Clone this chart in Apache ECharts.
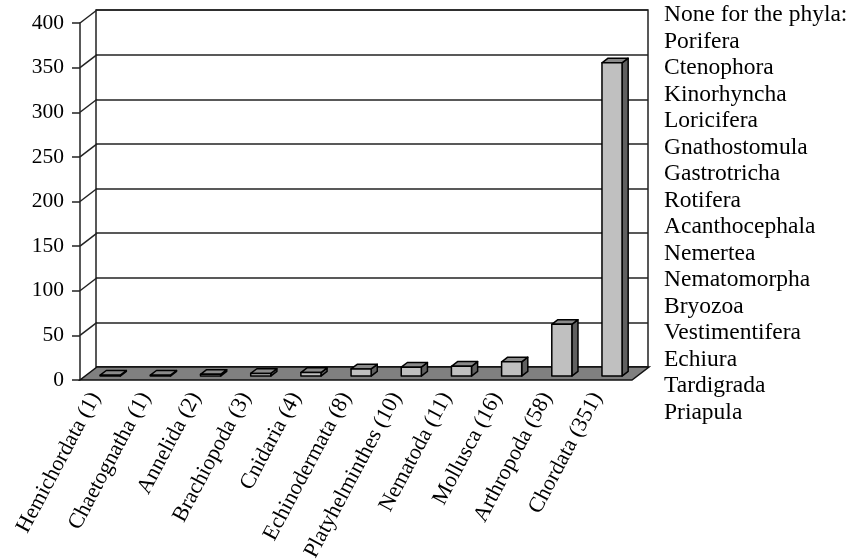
<!DOCTYPE html>
<html>
<head>
<meta charset="utf-8">
<script src="https://cdn.jsdelivr.net/npm/echarts@6/dist/echarts.min.js"></script>
<style>html,body{margin:0;padding:0;background:#fff;}#c{width:850px;height:560px;}</style>
</head>
<body>
<div id="c"></div>
<script>
const phyla = ['Hemichordata','Chaetognatha','Annelida','Brachiopoda','Cnidaria','Echinodermata','Platyhelminthes','Nematoda','Mollusca','Arthropoda','Chordata'];
const counts = [1,1,2,3,4,8,10,11,16,58,351];
const yTicks = [0,50,100,150,200,250,300,350,400];
const noneTitle = 'None for the phyla:';
const absentPhyla = ['Porifera','Ctenophora','Kinorhyncha','Loricifera','Gnathostomula','Gastrotricha','Rotifera','Acanthocephala','Nemertea','Nematomorpha','Bryozoa','Vestimentifera','Echiura','Tardigrada','Priapula'];

const categories = phyla.map((p, i) => p + ' (' + counts[i] + ')');
const DX = 17, DY = -13;
const FONT = 'Liberation Serif, Times New Roman, serif';
const LINE = '#222';

const chart = echarts.init(document.getElementById('c'));

function floorItem(params, api) {
  const band = api.size([1, 0])[0];
  const p = api.coord([0, 0]);
  const left = p[0] - band / 2;
  const right = left + band * categories.length;
  const y = p[1];
  return {
    type: 'polygon',
    shape: { points: [[left, y], [right, y], [right + DX, y + DY], [left + DX, y + DY]] },
    style: { fill: '#808080', stroke: '#111', lineWidth: 1.5 }
  };
}

function sideLineItem(params, api) {
  const band = api.size([1, 0])[0];
  const p = api.coord([0, api.value(0)]);
  const left = p[0] - band / 2;
  return {
    type: 'line',
    shape: { x1: left, y1: p[1], x2: left + DX, y2: p[1] + DY },
    style: { stroke: LINE, lineWidth: 1.5 }
  };
}

function barItem(params, api) {
  const i = api.value(0), v = api.value(1);
  const band = api.size([1, 0])[0];
  const top = api.coord([i, v]);
  const bot = api.coord([i, 0]);
  const w = band * 0.4;
  const ox = DX * 0.3, oy = DY * 0.3;
  const dx = DX * 0.36, dy = DY * 0.36;
  const xl = top[0] + ox - w / 2, xr = xl + w;
  const yt = top[1] + oy, yb = bot[1] + oy;
  const st = { stroke: '#000', lineWidth: 1.5, lineJoin: 'round' };
  return {
    type: 'group',
    children: [
      { type: 'polygon', shape: { points: [[xr, yt], [xr, yb], [xr + dx, yb + dy], [xr + dx, yt + dy]] }, style: Object.assign({ fill: '#606060' }, st) },
      { type: 'polygon', shape: { points: [[xl, yt], [xr, yt], [xr + dx, yt + dy], [xl + dx, yt + dy]] }, style: Object.assign({ fill: '#8a8a8a' }, st) },
      { type: 'rect', shape: { x: xl, y: yt, width: w, height: yb - yt }, style: Object.assign({ fill: '#c0c0c0' }, st) }
    ]
  };
}

chart.setOption({
  animation: false,
  backgroundColor: '#fff',
  grid: [
    { left: 80, top: 23, width: 552, height: 357, show: false, containLabel: false, outerBoundsMode: 'none' },
    { left: 96, top: 10, width: 552, height: 357, show: true, borderColor: LINE, borderWidth: 1.5, backgroundColor: '#fff', z: -1, containLabel: false, outerBoundsMode: 'none' }
  ],
  xAxis: [
    { type: 'category', gridIndex: 0, data: categories,
      axisLine: { show: false }, axisTick: { show: false },
      axisLabel: { interval: 0, rotate: 62, fontFamily: FONT, fontSize: 22, color: '#000', margin: 19, align: 'right', verticalAlign: 'bottom' } },
    { type: 'category', gridIndex: 1, data: categories, show: false }
  ],
  yAxis: [
    { type: 'value', gridIndex: 0, min: 0, max: 400, interval: 50,
      axisLine: { show: true, lineStyle: { color: LINE, width: 1.5 } },
      axisTick: { show: true, length: 8, lineStyle: { color: LINE, width: 1.5 } },
      axisLabel: { fontFamily: FONT, fontSize: 21.5, color: '#000', margin: 16 },
      splitLine: { show: false } },
    { type: 'value', gridIndex: 1, min: 0, max: 400, interval: 50,
      axisLine: { show: false }, axisTick: { show: false }, axisLabel: { show: false },
      splitLine: { show: true, lineStyle: { color: LINE, width: 1.5 } } }
  ],
  series: [
    { type: 'custom', xAxisIndex: 0, yAxisIndex: 0, data: [[0]], renderItem: floorItem, z: 1, silent: true },
    { type: 'custom', xAxisIndex: 0, yAxisIndex: 0, data: yTicks.slice(1).map(v => [v]), renderItem: sideLineItem, z: 1, silent: true },
    { type: 'custom', xAxisIndex: 0, yAxisIndex: 0, data: counts.map((c, i) => [i, c]), renderItem: barItem, z: 3, silent: true }
  ],
  graphic: [
    { type: 'text', left: 664, top: 2,
      style: { text: [noneTitle].concat(absentPhyla).join('\n'), font: '23.5px ' + FONT, lineHeight: 26.5, fill: '#000' } }
  ]
});
</script>
</body>
</html>
